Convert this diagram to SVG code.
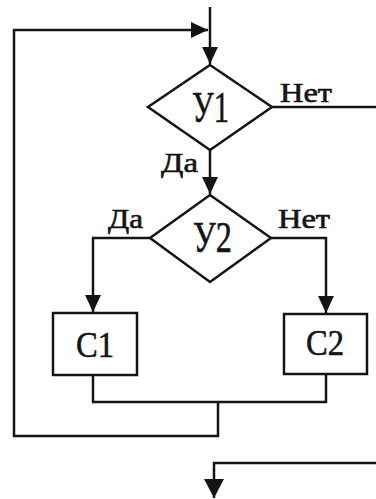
<svg xmlns="http://www.w3.org/2000/svg" width="376" height="499" viewBox="0 0 376 499">
<style>
.shape{fill:#fff;stroke:#141414;stroke-width:2.5}
.line{fill:none;stroke:#141414;stroke-width:2.5}
.t{font-family:"Liberation Serif","DejaVu Serif","Times New Roman",serif;fill:#141414;stroke:#141414;stroke-width:0.6}
.lbl{font-size:27px}
.big{font-size:44px}
.box{font-size:36px}
</style>
<defs>
<marker id="arr" markerUnits="userSpaceOnUse" markerWidth="17" markerHeight="16" refX="17" refY="8" orient="auto">
<path d="M0,0 L17,8 L0,16 z" fill="#141414"/>
</marker>
<marker id="arrBig" markerUnits="userSpaceOnUse" markerWidth="19" markerHeight="20" refX="19" refY="10" orient="auto">
<path d="M0,0 L19,10 L0,20 z" fill="#141414"/>
</marker>
</defs>
<rect width="376" height="499" fill="#fff"/>
<g id="connectors">
<path class="line" d="M210,7 V64" marker-end="url(#arr)"/>
<path class="line" d="M210,150 V194" marker-end="url(#arr)"/>
<path class="line" d="M272,107 H376"/>
<path class="line" d="M150,238 H93 V312" marker-end="url(#arr)"/>
<path class="line" d="M271,238 H326 V313" marker-end="url(#arr)"/>
<path class="line" d="M93,375 V402 H326 V374"/>
<path class="line" d="M218,402 V436 H14 V30 H208" marker-end="url(#arr)"/>
<path class="line" d="M376,463 H214 V498" marker-end="url(#arrBig)"/>
<text class="t lbl" x="280" y="102" textLength="52" lengthAdjust="spacingAndGlyphs">Нет</text>
<text class="t lbl" x="161" y="172" textLength="37" lengthAdjust="spacingAndGlyphs">Да</text>
<text class="t lbl" x="108" y="228" textLength="35" lengthAdjust="spacingAndGlyphs">Да</text>
<text class="t lbl" x="278" y="228" textLength="52" lengthAdjust="spacingAndGlyphs">Нет</text>
</g>
<g id="Y1">
<polygon class="shape" points="210,65 272,107 210,150 148,107"/>
<text class="t big" x="192" y="122" textLength="37" lengthAdjust="spacingAndGlyphs">У1</text>
</g>
<g id="Y2">
<polygon class="shape" points="210,195 271,238 210,282 150,238"/>
<text class="t big" x="193" y="252" textLength="39" lengthAdjust="spacingAndGlyphs">У2</text>
</g>
<g id="C1">
<rect class="shape" x="53" y="313" width="84" height="62"/>
<text class="t box" x="76" y="357" textLength="38" lengthAdjust="spacingAndGlyphs">С1</text>
</g>
<g id="C2">
<rect class="shape" x="284" y="314" width="83" height="60"/>
<text class="t box" x="306" y="355" textLength="38" lengthAdjust="spacingAndGlyphs">С2</text>
</g>
</svg>
